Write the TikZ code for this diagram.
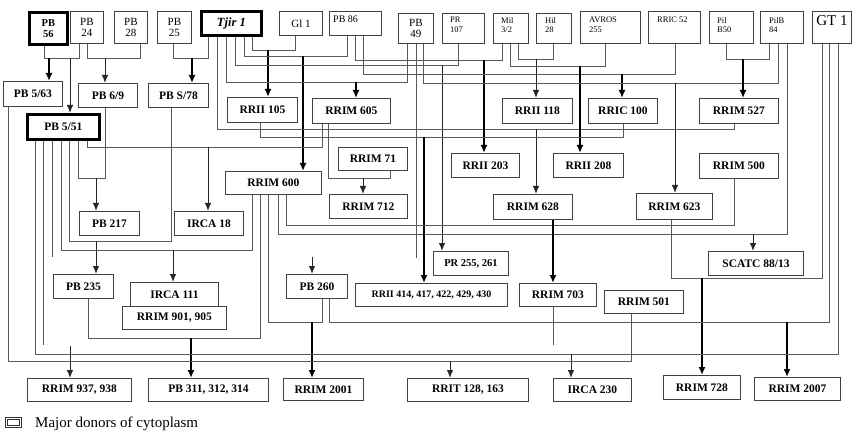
\documentclass[tikz,border=0pt]{standalone}
\usepackage{fontspec}
\setmainfont{Liberation Serif}
\usetikzlibrary{arrows.meta}
\tikzset{
  box/.style={draw=black!75, line width=0.9pt, fill=white, inner sep=0pt, anchor=north west, font=\fontsize{11.5}{13}\selectfont\bfseries},
  dbox/.style={box, draw=black, line width=2.8pt},
  mbox/.style={box, font=\fontsize{11}{11}\selectfont\mdseries, align=center},
  stext/.style={inner sep=0pt, anchor=north west, align=left, font=\fontsize{8.5}{9.5}\selectfont},
  conn/.style={draw=black!65, line width=0.8pt},
  arr/.style={draw=black!85, line width=1pt, -{Latex[length=8pt,width=6.5pt]}},
  tarr/.style={draw=black, line width=1.8pt, -{Latex[length=8pt,width=7pt]}},
}
\newcommand\bx[7][]{\node[box,#1,minimum width={#5-#3},minimum height={#6-#4}] (#2) at (#3,#4) {#7};}
\newcommand\arw[4]{\coordinate (#1) at (#2); \draw[#3] (#1) -- (#4.north -| #1);}
\begin{document}
\begin{tikzpicture}[x=1pt,y=-1pt]
\useasboundingbox (0,0) rectangle (852,433);
% ---- top row
\bx[dbox,font=\fontsize{10.5}{10.5}\selectfont\bfseries,align=center]{pb56}{28}{11}{66}{43}{PB\\56}
\bx[mbox]{pb24}{70}{11}{103}{43}{PB\\24}
\bx[mbox]{pb28}{114}{11}{147}{43}{PB\\28}
\bx[mbox]{pb25}{157}{11}{191}{43}{PB\\25}
\bx[dbox,font=\fontsize{12.5}{13}\selectfont\bfseries\itshape]{tjir}{200}{10}{260}{34}{Tjir 1}
\bx[mbox,font=\fontsize{11}{11}\selectfont]{gl1}{279}{11}{322}{35}{Gl 1}
\bx{pb86}{329}{11}{381}{35}{}
\node[stext, font=\fontsize{10}{10}\selectfont] (pb86t) at ([shift={(4,5)}]pb86.north west) {PB 86};
\bx[mbox]{pb49}{398}{13}{433}{43}{PB\\49}
\bx{pr107}{442}{13}{484}{43}{}
\node[stext] (pr107t) at ([shift={(8,4)}]pr107.north west) {PR\\107};
\bx{mil}{493}{13}{528}{43}{}
\node[stext] (milt) at ([shift={(8,4)}]mil.north west) {Mil\\3/2};
\bx{hil}{536}{13}{571}{43}{}
\node[stext] (hilt) at ([shift={(9,4)}]hil.north west) {Hil\\28};
\bx{avros}{580}{11}{640}{43}{}
\node[stext] (avrost) at ([shift={(9,6)}]avros.north west) {AVROS\\255};
\bx{rric52}{648}{11}{700}{43}{}
\node[stext] (rric52t) at ([shift={(9,6)}]rric52.north west) {RRIC 52};
\bx{pilb50}{709}{11}{753}{43}{}
\node[stext] (pilb50t) at ([shift={(8,6)}]pilb50.north west) {Pil\\B50};
\bx{pilb84}{760}{11}{803}{43}{}
\node[stext] (pilb84t) at ([shift={(9,6)}]pilb84.north west) {PilB\\84};
\bx{gt1}{812}{11}{851}{43}{}
\node[inner sep=0pt, anchor=north, font=\fontsize{15}{15}\selectfont] (gt1t) at ([yshift=-4pt]gt1.north) {GT 1};
% ---- row 2
\bx{pb563}{3}{81}{62}{106}{PB 5/63}
\bx{pb69}{78}{83}{137}{107}{PB 6/9}
\bx{pbs78}{148}{83}{208}{107}{PB S/78}
\bx[dbox]{pb551}{26}{113}{98}{138}{PB 5/51}
\bx{rrii105}{227}{97}{297}{122}{RRII 105}
\bx{rrim605}{312}{98}{390}{123}{RRIM 605}
\bx{rrii118}{502}{98}{572}{123}{RRII 118}
\bx{rric100}{588}{98}{657}{123}{RRIC 100}
\bx{rrim527}{699}{98}{778}{123}{RRIM 527}
% ---- row 3
\bx{rrim71}{338}{147}{407}{170}{RRIM 71}
\bx{rrii203}{451}{153}{519}{177}{RRII 203}
\bx{rrii208}{553}{153}{623}{177}{RRII 208}
\bx{rrim500}{699}{153}{778}{178}{RRIM 500}
\bx{rrim600}{225}{171}{321}{194}{RRIM 600}
\bx{rrim712}{329}{194}{407}{218}{RRIM 712}
\bx{rrim628}{493}{194}{572}{219}{RRIM 628}
\bx{rrim623}{636}{193}{712}{219}{RRIM 623}
\bx{pb217}{79}{211}{139}{235}{PB 217}
\bx{irca18}{174}{211}{243}{235}{IRCA 18}
% ---- row 4
\bx[font=\fontsize{10.5}{11}\selectfont\bfseries]{pr255}{433}{251}{508}{275}{PR 255, 261}
\bx{scatc}{708}{251}{803}{275}{SCATC 88/13}
\bx{pb235}{53}{274}{113}{298}{PB 235}
\bx{irca111}{130}{282}{218}{306}{IRCA 111}
\bx{rrim901}{122}{306}{226}{329}{RRIM 901, 905}
\bx{pb260}{286}{274}{347}{298}{PB 260}
\bx[font=\fontsize{10}{10}\selectfont\bfseries]{rrii414}{355}{283}{507}{306}{RRII 414, 417, 422, 429, 430}
\bx{rrim703}{519}{283}{596}{306}{RRIM 703}
\bx{rrim501}{604}{290}{683}{313}{RRIM 501}
% ---- bottom row
\bx{rrim937}{27}{378}{131}{401}{RRIM 937, 938}
\bx{pb311}{148}{378}{268}{401}{PB 311, 312, 314}
\bx{rrim2001}{283}{378}{363}{400}{RRIM 2001}
\bx{rrit}{407}{378}{528}{401}{RRIT 128, 163}
\bx{irca230}{553}{378}{631}{401}{IRCA 230}
\bx{rrim728}{663}{375}{740}{399}{RRIM 728}
\bx{rrim2007}{754}{377}{840}{400}{RRIM 2007}
% ---- connectors
\draw[conn] (pb56.south -| 44,0) |- (79,58) -- (pb24.south -| 79,0);
\arw{j1}{49,58}{tarr}{pb563}
\arw{j2}{70,58}{arr}{pb551}
\draw[conn] (pb24.south -| 87,0) |- (140,58) -- (pb28.south -| 140,0);
\arw{j3}{105,58}{arr}{pb69}
\draw[conn] (pb25.south -| 173,0) |- (208,58) -- (tjir.south -| 208,0);
\arw{j4}{192,58}{tarr}{pbs78}
\draw[conn] (tjir.south -| 252,0) |- (295,50) -- (gl1.south -| 295,0);
\arw{j5}{268,50}{tarr}{rrii105}
\draw[conn] (tjir.south -| 244,0) |- (347,56) -- (pb86.south -| 347,0);
\arw{j6}{303,56}{tarr}{rrim600}
\draw[conn] (tjir.south -| 235,0) |- (458,65) -- (pr107.south -| 458,0);
\arw{j7}{442,65}{arr}{pr255}
\draw[conn] (tjir.south -| 226,0) |- (407,82) -- (pb49.south -| 407,0);
\arw{j8}{356,82}{tarr}{rrim605}
\draw[conn] (tjir.south -| 217,0) |- (734,129) -- (rrim527.south -| 734,0);
\arw{j9}{536,129}{arr}{rrim628}
\draw[conn] (pb86.south -| 355,0) |- (502,60) -- (mil.south -| 502,0);
\arw{j10}{484,60}{tarr}{rrii203}
\draw[conn] (pb86.south -| 363,0) |- (675,74) -- (rric52.south -| 675,0);
\arw{j11}{622,74}{tarr}{rric100}
\draw[conn] (mil.south -| 518,0) |- (553,59) -- (hil.south -| 553,0);
\arw{j12}{536,59}{arr}{rrii118}
\draw[conn] (mil.south -| 510,0) |- (605,66) -- (avros.south -| 605,0);
\arw{j13}{580,66}{tarr}{rrii208}
\draw[conn] (pb49.south -| 423,0) |- (778,83) -- (pilb84.south -| 778,0);
\arw{j14}{675,83}{arr}{rrim623}
\draw[conn] (pilb50.south -| 726,0) |- (769,59) -- (pilb84.south -| 769,0);
\arw{j15}{743,59}{tarr}{rrim527}
\draw[conn] (rrim600.south -| 278,0) |- (787,234) -- (pilb84.south -| 787,0);
\arw{j16}{753,234}{arr}{scatc}
\draw[conn] (rrii105.south -| 260,0) |- (623,137) -- (rric100.south -| 623,0);
\arw{j17}{424,137}{tarr}{rrii414}
\draw[conn] (pb551.south -| 87,0) |- (322,147) -- (rrim605.south -| 322,0);
\arw{j18}{208,147}{arr}{irca18}
\draw[conn] (rrim605.south -| 328,0) |- (390,178) -- (rrim71.south -| 390,0);
\arw{j19}{363,178}{arr}{rrim712}
\draw[conn] (pb551.south -| 78,0) |- (105,178) -- (pb69.south -| 105,0);
\arw{j20}{96,178}{arr}{pb217}
\draw[conn] (pb551.south -| 69,0) |- (171,241) -- (pbs78.south -| 171,0);
\arw{j21}{96,241}{arr}{pb235}
\draw[conn] (pb551.south -| 61,0) |- (252,250) -- (rrim600.south -| 252,0);
\arw{j22}{173,250}{arr}{irca111}
\draw[conn] (rrim600.south -| 286,0) |- (734,225) -- (rrim500.south -| 734,0);
\draw[tarr] (rrim628.south -| 553,0) -- (rrim703.north -| 553,0);
\draw[conn] (rrim623.south -| 671,0) |- (822,278) -- (gt1.south -| 822,0);
\arw{j23}{702,278}{tarr}{rrim728}
\draw[conn] (pb235.south -| 88,0) |- (260,338) -- (rrim600.south -| 260,0);
\arw{j24}{191,338}{tarr}{pb311}
\draw[conn] (rrim600.south -| 268,0) |- (322,322) -- (pb260.south -| 322,0);
\arw{j25}{312,322}{tarr}{rrim2001}
\draw[conn] (pb260.south -| 329,0) |- (829,322) -- (gt1.south -| 829,0);
\arw{j26}{787,322}{tarr}{rrim2007}
\draw[conn] (pb551.south -| 35,0) |- (838,354) -- (gt1.south -| 838,0);
\arw{j27}{571,354}{arr}{irca230}
\draw[conn] (pb563.south -| 8,0) |- (631,361) -- (rrim501.south -| 631,0);
\arw{j28}{450,361}{arr}{rrit}
% stubs
\coordinate (s1) at (43,345); \draw[conn] (pb551.south -| 43,0) -- (s1);
\arw{s2}{70,346}{arr}{rrim937}
\coordinate (s3) at (52,257); \draw[conn] (pb551.south -| 52,0) -- (s3);
\coordinate (s4) at (416,258); \draw[conn] (pb49.south -| 416,0) -- (s4);
\arw{s5}{312,257}{arr}{pb260}
\coordinate (s6) at (553,345); \draw[conn] (rrim703.south -| 553,0) -- (s6);
% ---- legend
\node[draw=black!80, line width=0.7pt, double, double distance=1pt, minimum width=14pt, minimum height=8pt, inner sep=0pt, anchor=north west] (legbox) at (6,418) {};
\node[inner sep=0pt, anchor=base west, font=\fontsize{15}{15}\selectfont] (legtext) at (35,427) {Major donors of cytoplasm};
\end{tikzpicture}
\end{document}
